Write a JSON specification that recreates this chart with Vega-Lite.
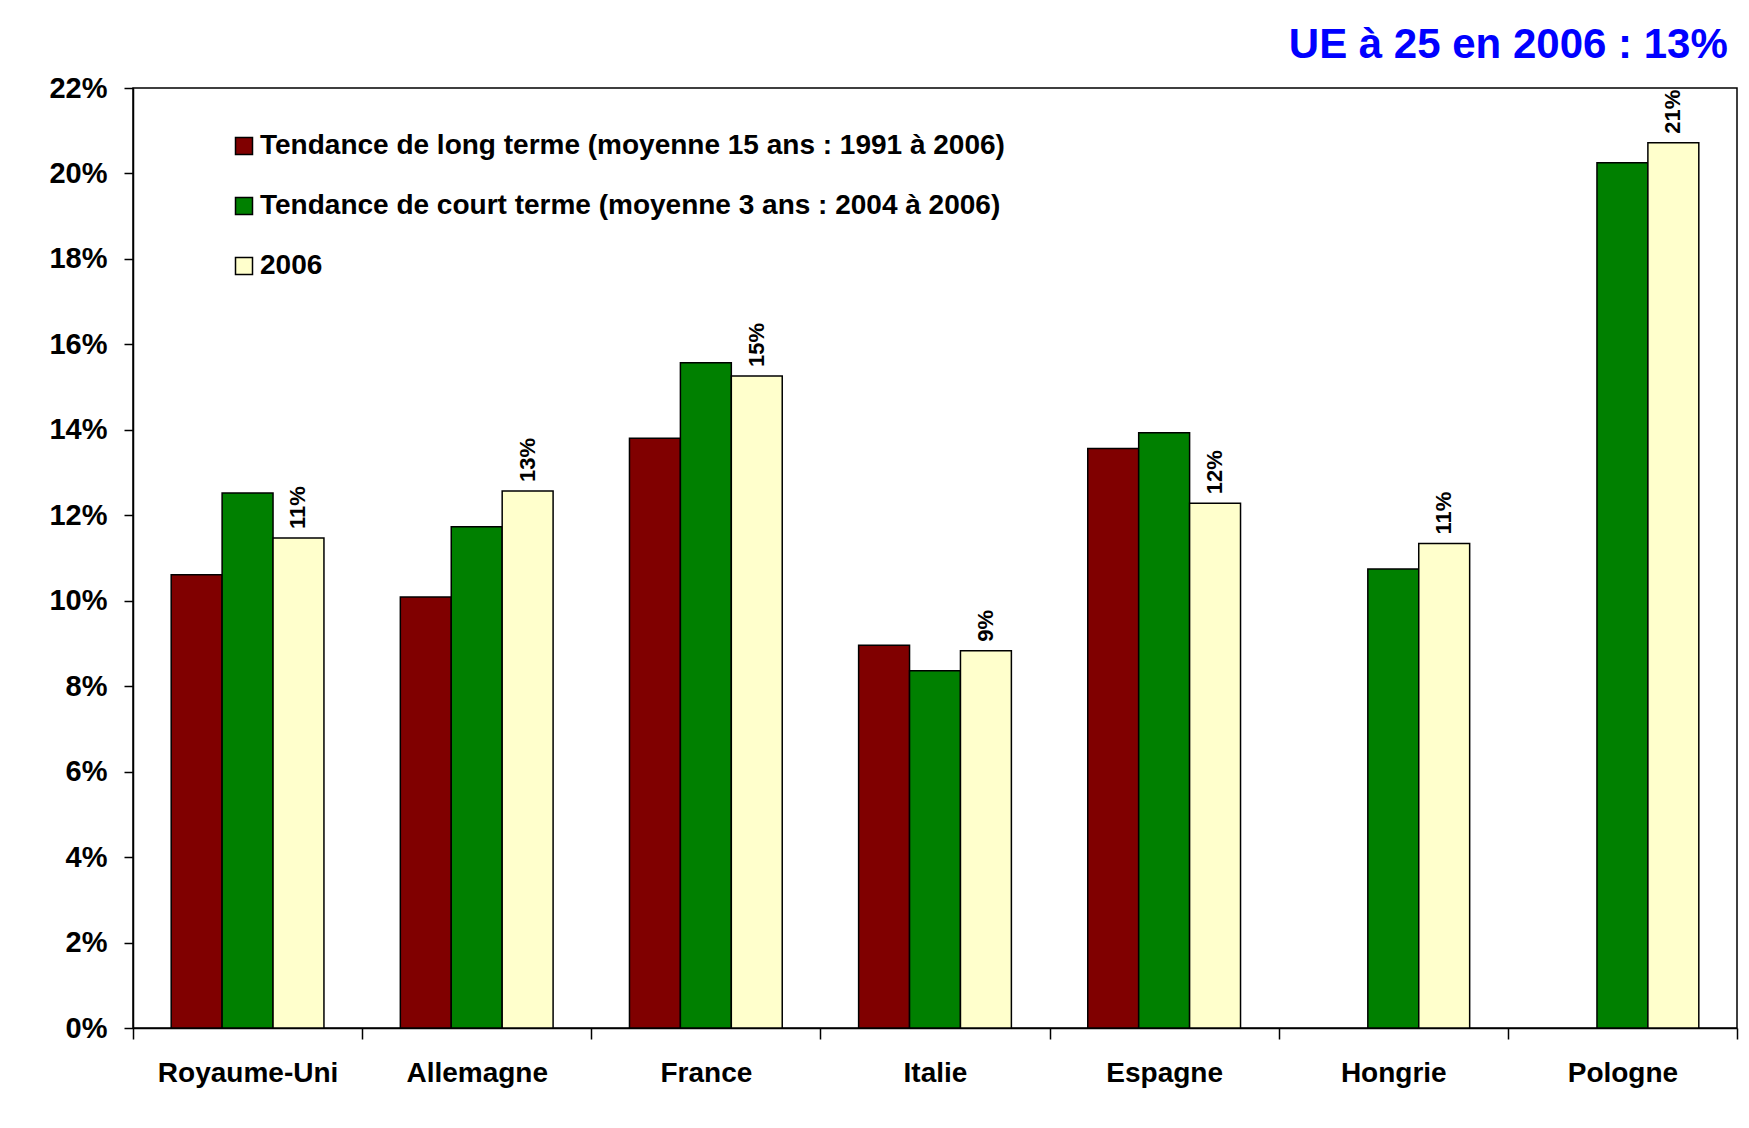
{
  "$schema": "https://vega.github.io/schema/vega-lite/v6.json",
  "width": 1604,
  "height": 940,
  "autosize": {"type": "none"},
  "padding": {"left": 133, "top": 88, "right": 12, "bottom": 100},
  "background": "white",
  "title": {
    "text": "UE à 25 en 2006 : 13%",
    "anchor": "end",
    "orient": "top",
    "font": "Liberation Sans",
    "fontSize": 42,
    "fontWeight": "bold",
    "color": "#0000FF",
    "offset": 7,
    "dx": -10
  },
  "data": {
    "values": [
      {"pays": "Royaume-Uni", "serie": "Tendance de long terme (moyenne 15 ans : 1991 à 2006)", "valeur": 0.1061},
      {"pays": "Royaume-Uni", "serie": "Tendance de court terme (moyenne 3 ans : 2004 à 2006)", "valeur": 0.1252},
      {"pays": "Royaume-Uni", "serie": "2006", "valeur": 0.1147},
      {"pays": "Allemagne", "serie": "Tendance de long terme (moyenne 15 ans : 1991 à 2006)", "valeur": 0.1009},
      {"pays": "Allemagne", "serie": "Tendance de court terme (moyenne 3 ans : 2004 à 2006)", "valeur": 0.1173},
      {"pays": "Allemagne", "serie": "2006", "valeur": 0.1257},
      {"pays": "France", "serie": "Tendance de long terme (moyenne 15 ans : 1991 à 2006)", "valeur": 0.1380},
      {"pays": "France", "serie": "Tendance de court terme (moyenne 3 ans : 2004 à 2006)", "valeur": 0.1557},
      {"pays": "France", "serie": "2006", "valeur": 0.1526},
      {"pays": "Italie", "serie": "Tendance de long terme (moyenne 15 ans : 1991 à 2006)", "valeur": 0.0896},
      {"pays": "Italie", "serie": "Tendance de court terme (moyenne 3 ans : 2004 à 2006)", "valeur": 0.0836},
      {"pays": "Italie", "serie": "2006", "valeur": 0.0883},
      {"pays": "Espagne", "serie": "Tendance de long terme (moyenne 15 ans : 1991 à 2006)", "valeur": 0.1356},
      {"pays": "Espagne", "serie": "Tendance de court terme (moyenne 3 ans : 2004 à 2006)", "valeur": 0.1393},
      {"pays": "Espagne", "serie": "2006", "valeur": 0.1228},
      {"pays": "Hongrie", "serie": "Tendance de court terme (moyenne 3 ans : 2004 à 2006)", "valeur": 0.1074},
      {"pays": "Hongrie", "serie": "2006", "valeur": 0.1134},
      {"pays": "Pologne", "serie": "Tendance de court terme (moyenne 3 ans : 2004 à 2006)", "valeur": 0.2025},
      {"pays": "Pologne", "serie": "2006", "valeur": 0.2072}
    ]
  },
  "encoding": {
    "x": {
      "field": "pays",
      "type": "nominal",
      "sort": ["Royaume-Uni", "Allemagne", "France", "Italie", "Espagne", "Hongrie", "Pologne"],
      "scale": {"paddingInner": 0, "paddingOuter": 0},
      "axis": {
        "title": null,
        "tickBand": "extent",
        "tickSize": 11,
        "tickColor": "black",
        "tickWidth": 1.5,
        "domainColor": "black",
        "domainWidth": 1.5,
        "labelAngle": 0,
        "labelFont": "Liberation Sans",
        "labelFontSize": 28,
        "labelFontWeight": "bold",
        "labelColor": "black",
        "labelLimit": 0,
        "labelPadding": 20
      }
    },
    "xOffset": {
      "field": "serie",
      "type": "nominal",
      "scale": {
        "domain": ["Tendance de long terme (moyenne 15 ans : 1991 à 2006)", "Tendance de court terme (moyenne 3 ans : 2004 à 2006)", "2006"],
        "paddingInner": 0,
        "paddingOuter": 0.75
      }
    },
    "y": {
      "field": "valeur",
      "type": "quantitative",
      "scale": {"domain": [0, 0.22], "nice": false},
      "axis": {
        "title": null,
        "values": [0, 0.02, 0.04, 0.06, 0.08, 0.1, 0.12, 0.14, 0.16, 0.18, 0.2, 0.22],
        "format": ".0%",
        "grid": false,
        "tickSize": 9,
        "tickColor": "black",
        "tickWidth": 1.5,
        "domainColor": "black",
        "domainWidth": 1.5,
        "labelFont": "Liberation Sans",
        "labelFontSize": 29,
        "labelFontWeight": "bold",
        "labelColor": "black",
        "labelPadding": 17
      }
    }
  },
  "layer": [
    {
      "mark": {"type": "bar", "stroke": "black", "strokeWidth": 1.5},
      "encoding": {
        "color": {
          "field": "serie",
          "type": "nominal",
          "scale": {
            "domain": ["Tendance de long terme (moyenne 15 ans : 1991 à 2006)", "Tendance de court terme (moyenne 3 ans : 2004 à 2006)", "2006"],
            "range": ["#800000", "#008000", "#FFFFCC"]
          },
          "legend": {
            "orient": "none",
            "legendX": 97,
            "legendY": 44,
            "title": null,
            "padding": 0,
            "symbolType": "square",
            "symbolSize": 289,
            "symbolStrokeColor": "black",
            "symbolStrokeWidth": 1.5,
            "labelFont": "Liberation Sans",
            "labelFontSize": 28,
            "labelFontWeight": "bold",
            "labelColor": "black",
            "labelLimit": 0,
            "labelOffset": 2,
            "rowPadding": 32
          }
        }
      }
    },
    {
      "transform": [{"filter": "datum.serie === '2006'"}],
      "mark": {
        "type": "text",
        "angle": 270,
        "align": "left",
        "baseline": "middle",
        "dx": 9,
        "font": "Liberation Sans",
        "fontSize": 22,
        "fontWeight": "bold",
        "color": "black"
      },
      "encoding": {
        "text": {"field": "valeur", "type": "quantitative", "format": ".0%"}
      }
    }
  ],
  "config": {
    "view": {"stroke": "black", "strokeWidth": 1.5}
  }
}
